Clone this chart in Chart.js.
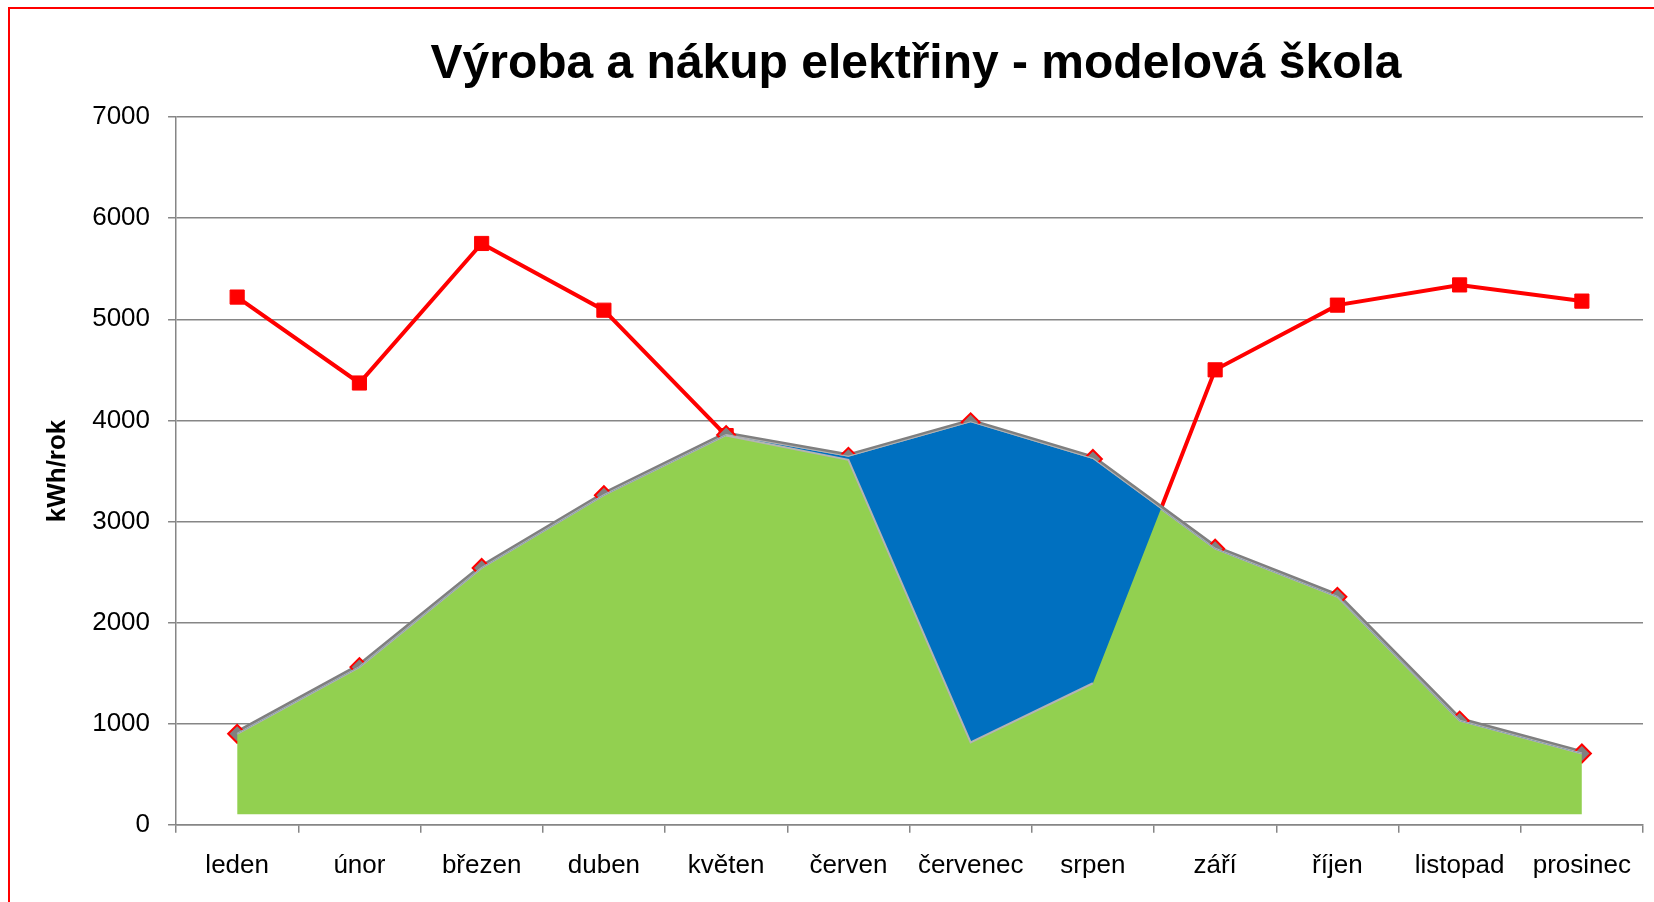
<!DOCTYPE html>
<html>
<head>
<meta charset="utf-8">
<script src="https://cdn.jsdelivr.net/npm/chart.js@4/dist/chart.umd.min.js"></script>
<style>
  html, body { margin: 0; padding: 0; background: #ffffff; overflow: hidden; }
  #frame { position: absolute; left: 8px; top: 7px; width: 1700px; height: 1000px; border: 2px solid #ff0000; box-sizing: border-box; }
  #c { position: absolute; left: 0; top: 0; }
</style>
</head>
<body>
<div id="frame"></div>
<canvas id="c" width="1654" height="902"></canvas>
<script>
// ---- data ----
const months = ['leden', 'únor', 'březen', 'duben', 'květen', 'červen', 'červenec', 'srpen', 'září', 'říjen', 'listopad', 'prosinec'];
// grey series with diamond markers (výroba)
const vyroba = [900, 1560, 2540, 3260, 3855, 3640, 3981, 3618, 2731, 2255, 1030, 705];
// red series with square markers (nákup)
const nakup = [5220, 4370, 5750, 5090, 3850, 3610, 815, 1400, 4500, 5140, 5340, 5180];
const yTicks = [0, 1000, 2000, 3000, 4000, 5000, 6000, 7000];
const baseValue = 105;

const FONT = "'Liberation Sans', Arial, Helvetica, sans-serif";
Chart.defaults.font.family = FONT;
Chart.defaults.color = '#000000';

const GRID = '#868686';
const TITLE_CENTER_X = 916;

const titleShift = {
  id: 'titleShift',
  afterLayout(chart) {
    const tb = chart.titleBlock;
    if (!tb) return;
    const d = TITLE_CENTER_X - (tb.left + tb.right) / 2;
    tb.left += d;
    tb.right += d;
  }
};

const below = (i) => nakup[i] < vyroba[i];

new Chart(document.getElementById('c'), {
  type: 'line',
  plugins: [titleShift],
  data: {
    labels: months,
    datasets: [
      { // outline of the blue region
        label: 'okraj',
        data: nakup,
        order: 0,
        fill: false,
        borderWidth: 2,
        segment: {
          borderColor: ctx => (below(ctx.p0DataIndex) && below(ctx.p1DataIndex)) ? '#b4b4b4' : 'rgba(0,0,0,0)'
        },
        pointRadius: 0,
        tension: 0
      },
      { // blue: region where purchase line is below production
        label: 'přebytek',
        data: nakup,
        order: 1,
        fill: { target: 2, above: 'rgba(0,0,0,0)', below: '#0070c0' },
        borderWidth: 0,
        borderColor: 'rgba(0,0,0,0)',
        pointRadius: 0,
        tension: 0
      },
      { // green area under production
        label: 'výroba (plocha)',
        data: vyroba,
        order: 2,
        fill: { target: { value: baseValue } },
        backgroundColor: '#92d050',
        borderColor: '#b2b2b2',
        borderWidth: 2,
        pointRadius: 0,
        tension: 0
      },
      { // grey line with diamonds
        label: 'výroba',
        data: vyroba,
        order: 3,
        fill: false,
        borderColor: '#7f7f7f',
        borderWidth: 7,
        pointStyle: 'rectRot',
        pointRadius: 9,
        pointBackgroundColor: '#808080',
        pointBorderColor: '#ff0000',
        pointBorderWidth: 2,
        tension: 0
      },
      { // red purchase line
        label: 'nákup',
        data: nakup,
        order: 4,
        fill: false,
        borderColor: '#ff0000',
        borderWidth: 4,
        pointStyle: 'rect',
        pointRadius: 10,
        pointBackgroundColor: '#ff0000',
        pointBorderColor: '#ff0000',
        pointBorderWidth: 1,
        tension: 0
      }
    ]
  },
  options: {
    responsive: false,
    animation: false,
    devicePixelRatio: 1,
    layout: { padding: { left: 42, right: 9, top: 0, bottom: 4 } },
    plugins: {
      legend: { display: false },
      tooltip: { enabled: false },
      title: {
        display: true,
        text: 'Výroba a nákup elektřiny - modelová škola',
        fullSize: false,
        color: '#000000',
        font: { size: 48, weight: 'bold', family: FONT },
        padding: { top: 35.5, bottom: 24 }
      }
    },
    scales: {
      x: {
        type: 'category',
        offset: true,
        grid: { offset: true, drawOnChartArea: false, tickLength: 8, color: GRID, lineWidth: 1.5 },
        border: { color: GRID, width: 1.5 },
        ticks: { padding: 17, font: { size: 26 }, color: '#000000', maxRotation: 0, autoSkip: false }
      },
      y: {
        min: yTicks[0],
        max: yTicks[yTicks.length - 1],
        afterBuildTicks: axis => { axis.ticks = yTicks.map(v => ({ value: v })); },
        grid: { color: GRID, lineWidth: 1.5, tickLength: 8 },
        border: { color: GRID, width: 1.5 },
        ticks: { padding: 18, font: { size: 26 }, color: '#000000', callback: v => String(v) },
        title: {
          display: true,
          text: 'kWh/rok',
          color: '#000000',
          font: { size: 26, weight: 'bold', family: FONT },
          padding: { top: 0, bottom: 1 }
        }
      }
    }
  }
});
</script>
</body>
</html>
